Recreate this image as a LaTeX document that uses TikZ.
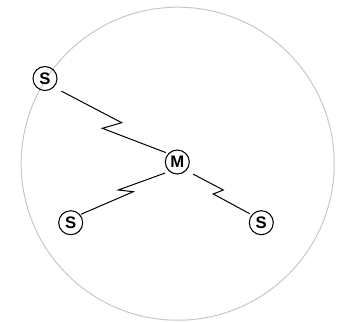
\documentclass[tikz,border=0pt]{standalone}
\usepackage{fontspec}
\setmainfont{Liberation Sans}
\begin{document}
\begin{tikzpicture}[x=0.75pt,y=0.75pt,
		site/.style={circle, draw, line width=0.8pt, minimum size=18pt, inner sep=0pt, outer sep=0pt, font=\fontsize{12.5}{14}\selectfont\bfseries},
		bolt/.style={line width=0.75pt}]
		\useasboundingbox (-177.3,-160) rectangle (163.7,162);
		\draw[black!22, line width=0.75pt] (0.4,-1.7) circle (156.5);

		\node[site] (m) at (0,0) {M};
		\node[site] (s1) at (-132.3,83.5) {S};
		\node[site] (s2) at (-106.6,-60.7) {S};
		\node[site] (s3) at (84,-60.7) {S};

		\coordinate (z1a) at (-55.6,39.3);
		\coordinate (z1b) at (-75,33.7);
		\coordinate (z2a) at (-59,-28);
		\coordinate (z2b) at (-44,-29.7);
		\coordinate (z3a) at (46,-28);
		\coordinate (z3b) at (36,-32);

		\draw[bolt, shorten <=6.7pt, shorten >=2.2pt] (s1.-45) -- (z1a) -- (z1b) -- (m.136);
		\draw[bolt, shorten <=3.7pt, shorten >=1pt] (m.-129) -- (z2a) -- (z2b) -- (s2.41);
		\draw[bolt, shorten <=6.1pt, shorten >=2.1pt] (m.-44) -- (z3a) -- (z3b) -- (s3.140);

	\end{tikzpicture}
\end{document}
